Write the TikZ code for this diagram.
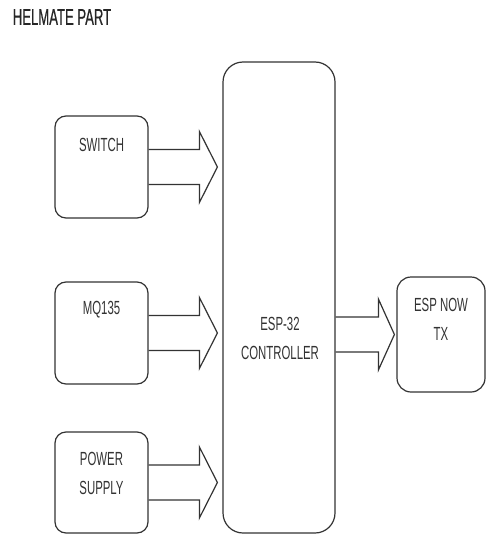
\documentclass[tikz,border=0pt]{standalone}
\usepackage{fontspec}
\setmainfont[FakeStretch=0.6]{Liberation Sans}
\newfontfamily\titlefont[FakeStretch=0.57,FakeBold=0.6]{Liberation Sans}
\usetikzlibrary{calc}
\definecolor{ink}{HTML}{333333}
\newcommand\blockarrow[3]{%
  \draw[arr] let \p1=(#1), \p2=(#2) in
    (\x1,\y1+17.5pt) -- (\x2-#3,\y1+17.5pt) -- (\x2-#3,\y1+35.5pt) -- (\x2,\y1)
    -- (\x2-#3,\y1-35.5pt) -- (\x2-#3,\y1-17.5pt) -- (\x1,\y1-17.5pt);}
\begin{document}
\begin{tikzpicture}[x=1pt,y=-1pt,
  box/.style={draw=ink, line width=1.2pt, rounded corners=11pt, minimum width=93pt, inner sep=0pt},
  lbl/.style={font=\fontsize{19}{29}\selectfont, text=ink, align=center, inner sep=0pt},
  arr/.style={draw=ink, line width=1.2pt, line join=miter}]
\useasboundingbox[fill=white] (0,0) rectangle (487,535);

\node[font=\titlefont\fontsize{23}{26}\selectfont, text=black!85, inner sep=0pt] (title) at (62,17) {HELMATE PART};

\node[box, minimum height=102pt] (sw) at (101.5,167) {};
\node[box, minimum height=102pt] (mq) at (101.5,333) {};
\node[box, minimum height=101pt] (ps) at (101.5,482.5) {};
\node[box, rounded corners=20pt, minimum width=112pt, minimum height=471pt] (ctrl) at (279,297.5) {};
\node[box, rounded corners=14pt, minimum width=88pt, minimum height=115pt] (tx) at (441,334.5) {};

\node[lbl] (swt) at (101.5,145) {SWITCH};
\node[lbl] (mqt) at (101.5,310) {MQ135};
\node[lbl] (pst) at (101.5,473.5) {POWER\\SUPPLY};
\node[lbl] (ctrlt) at (280,338) {ESP-32\\CONTROLLER};
\node[lbl] (txt) at (441,319) {ESP NOW\\TX};

\coordinate (swtip) at ($(ctrl.west |- sw.east)+(-5,0)$);
\coordinate (mqtip) at ($(ctrl.west |- mq.east)+(-5,0)$);
\coordinate (pstip) at ($(ctrl.west |- ps.east)+(-5,0)$);
\coordinate (txtip) at ($(tx.west)+(-2,0)$);
\blockarrow{sw.east}{swtip}{18pt}
\blockarrow{mq.east}{mqtip}{18pt}
\blockarrow{ps.east}{pstip}{18pt}
\coordinate (cout) at (ctrl.east |- tx.west);
\blockarrow{cout}{txtip}{16pt}
\end{tikzpicture}
\end{document}
